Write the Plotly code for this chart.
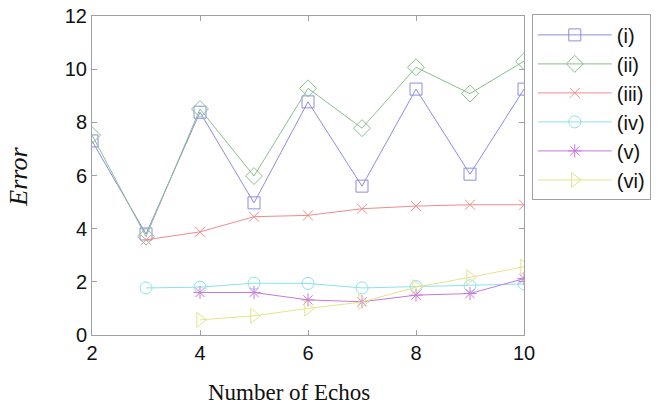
import plotly.graph_objects as go

x_all = [2, 3, 4, 5, 6, 7, 8, 9, 10]
s1 = [7.3, 3.8, 8.38, 4.97, 8.77, 5.6, 9.25, 6.05, 9.25]
s2 = [7.52, 3.7, 8.5, 5.98, 9.28, 7.78, 10.07, 9.08, 10.3]
x3 = [3, 4, 5, 6, 7, 8, 9, 10]
s3 = [3.58, 3.88, 4.45, 4.5, 4.75, 4.85, 4.9, 4.9]
s4 = [1.77, 1.8, 1.95, 1.94, 1.77, 1.82, 1.85, 1.92]
x5 = [4, 5, 6, 7, 8, 9, 10]
s5 = [1.6, 1.6, 1.32, 1.25, 1.5, 1.56, 2.12]
s6 = [0.57, 0.72, 1.0, 1.24, 1.8, 2.17, 2.57]
names = ["(i)", "(ii)", "(iii)", "(iv)", "(v)", "(vi)"]

colors = ["#8c8ce6", "#8cbf8c", "#f08c8c", "#8ce2ea", "#c878dc", "#e4e48c"]
symbols = ["square-open", "diamond-open", "x-thin-open", "circle-open",
           "asterisk-open", "triangle-right-open"]
sizes = [12, 13, 10, 12, 11, 13]

series = [(x_all, s1), (x_all, s2), (x3, s3), (x3, s4), (x5, s5), (x5, s6)]

fig = go.Figure()
for i, (xs, ys) in enumerate(series):
    fig.add_trace(go.Scatter(
        x=xs, y=ys, name=names[i], mode="lines+markers",
        line=dict(color=colors[i], width=1),
        marker=dict(symbol=symbols[i], size=sizes[i], color=colors[i],
                    line=dict(color=colors[i], width=1)),
    ))

axis_common = dict(showgrid=False, zeroline=False, showline=True, mirror="ticks",
                   linecolor="#a0a0a8", linewidth=1, ticks="inside", ticklen=5,
                   tickcolor="#a0a0a8", automargin=False,
                   tickfont=dict(family="Liberation Sans, Arial", size=20, color="#111"))

fig.update_layout(
    width=664, height=412,
    margin=dict(l=92, r=140, t=16, b=77),
    paper_bgcolor="white", plot_bgcolor="white",
    xaxis=dict(range=[2, 10], tickvals=[2, 4, 6, 8, 10], **axis_common),
    yaxis=dict(range=[0, 12], tickvals=[0, 2, 4, 6, 8, 10, 12], **axis_common),
    legend=dict(x=1.018, y=1.005, xanchor="left", yanchor="top",
                bordercolor="#a0a0a8", borderwidth=1, bgcolor="white",
                font=dict(family="Liberation Sans, Arial", size=20, color="#111"),
                itemwidth=74, tracegroupgap=0),
    showlegend=True,
    annotations=[
        dict(text="Number of Echos", xref="paper", yref="paper", x=0.455, y=-0.18,
             xanchor="center", yanchor="middle", showarrow=False,
             font=dict(family="Liberation Serif, Times New Roman", size=23, color="#111")),
        dict(text="<i>Error</i>", xref="paper", yref="paper", x=-0.17, y=0.495,
             xanchor="center", yanchor="middle", showarrow=False, textangle=-90,
             font=dict(family="Liberation Serif, Times New Roman", size=26, color="#111")),
    ],
)

fig.write_html("out.html", post_script="document.body.style.margin='0';",
               config={"displayModeBar": False})
